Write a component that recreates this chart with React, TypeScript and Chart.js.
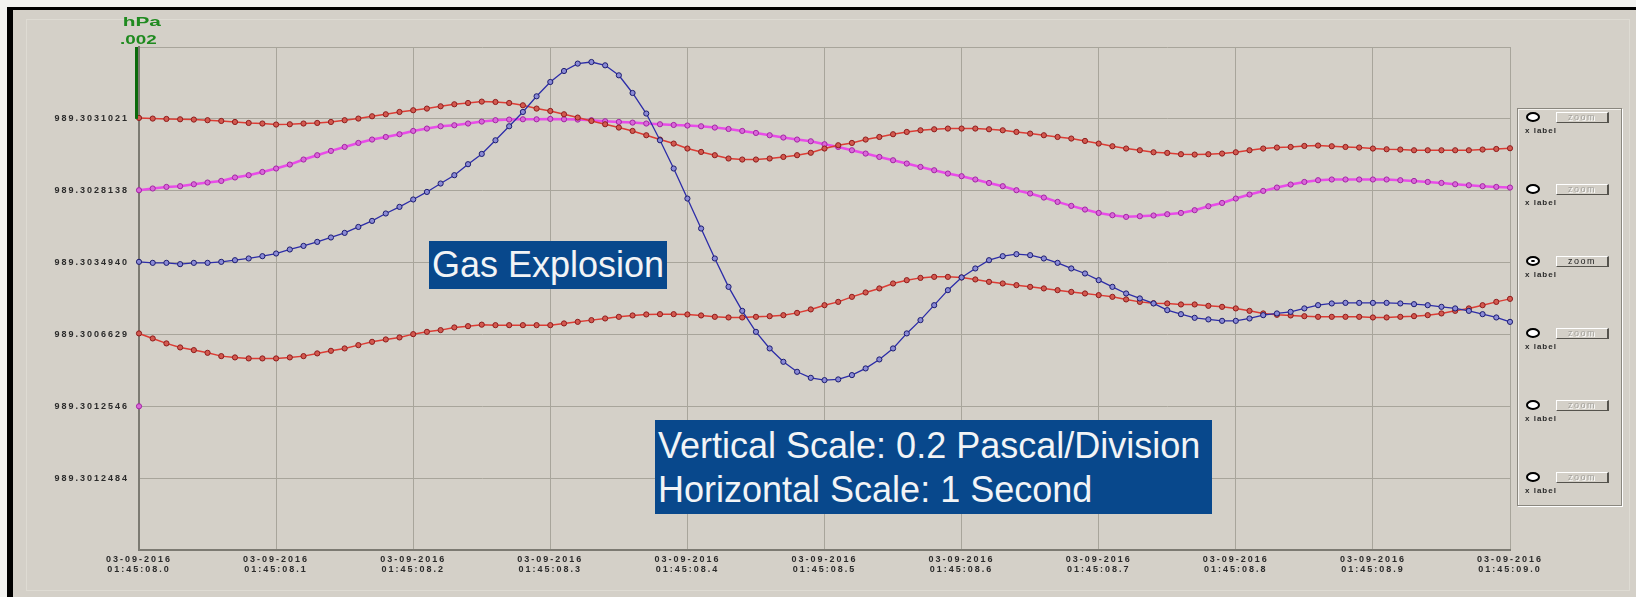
import React, { useEffect, useRef } from "react";
import { Chart, registerables } from "chart.js";

Chart.register(...registerables);

// ---- data (y in vertical divisions of the multi-trace display, 0.2 Pa / division) ----
const SAMPLE_STEP = 0.01; // seconds between samples
const X_DATE = "03-09-2016";
const X_TIMES = [
  "01:45:08.0", "01:45:08.1", "01:45:08.2", "01:45:08.3", "01:45:08.4", "01:45:08.5",
  "01:45:08.6", "01:45:08.7", "01:45:08.8", "01:45:08.9", "01:45:09.0",
];
const Y_TICK_LABELS = [
  "", "989.3012484", "989.3012546", "989.3006629", "989.3034940", "989.3028138", "989.3031021", "",
];

const RED_TOP = [
  6.013, 6.004, 5.999, 5.994, 5.990, 5.981, 5.971, 5.957, 5.943, 5.935,
  5.921, 5.925, 5.935, 5.943, 5.957, 5.981, 6.004, 6.036, 6.064, 6.096,
  6.120, 6.143, 6.175, 6.203, 6.221, 6.240, 6.235, 6.221, 6.189, 6.143,
  6.110, 6.064, 6.018, 5.971, 5.925, 5.879, 5.832, 5.772, 5.712, 5.656,
  5.587, 5.540, 5.494, 5.448, 5.434, 5.434, 5.448, 5.470, 5.494, 5.528,
  5.587, 5.633, 5.665, 5.712, 5.748, 5.786, 5.818, 5.841, 5.855, 5.865,
  5.865, 5.865, 5.855, 5.841, 5.818, 5.795, 5.772, 5.748, 5.726, 5.693,
  5.656, 5.619, 5.587, 5.563, 5.535, 5.526, 5.508, 5.503, 5.508, 5.517,
  5.535, 5.563, 5.587, 5.601, 5.609, 5.623, 5.629, 5.619, 5.609, 5.601,
  5.587, 5.577, 5.573, 5.563, 5.563, 5.563, 5.563, 5.563, 5.573, 5.581,
  5.591,
];

const MAGENTA = [
  5.007, 5.031, 5.053, 5.063, 5.090, 5.114, 5.136, 5.184, 5.216, 5.261,
  5.309, 5.364, 5.434, 5.494, 5.554, 5.609, 5.665, 5.712, 5.748, 5.786,
  5.832, 5.865, 5.897, 5.911, 5.935, 5.962, 5.981, 5.990, 5.994, 5.994,
  5.999, 5.994, 5.990, 5.981, 5.967, 5.957, 5.948, 5.935, 5.925, 5.915,
  5.907, 5.897, 5.879, 5.859, 5.832, 5.804, 5.772, 5.740, 5.712, 5.688,
  5.647, 5.609, 5.563, 5.517, 5.470, 5.424, 5.378, 5.331, 5.285, 5.239,
  5.202, 5.156, 5.108, 5.063, 5.007, 4.961, 4.905, 4.844, 4.789, 4.738,
  4.691, 4.659, 4.636, 4.645, 4.655, 4.673, 4.691, 4.729, 4.784, 4.830,
  4.891, 4.947, 4.997, 5.044, 5.086, 5.122, 5.146, 5.156, 5.156, 5.156,
  5.156, 5.156, 5.146, 5.136, 5.122, 5.108, 5.090, 5.076, 5.063, 5.053,
  5.044,
];

const BLUE = [
  4.010, 3.996, 3.996, 3.978, 3.996, 3.996, 4.010, 4.033, 4.057, 4.089,
  4.126, 4.182, 4.232, 4.288, 4.349, 4.413, 4.496, 4.580, 4.683, 4.775,
  4.878, 4.983, 5.100, 5.216, 5.369, 5.512, 5.702, 5.897, 6.096, 6.314,
  6.513, 6.666, 6.769, 6.791, 6.745, 6.606, 6.360, 6.074, 5.702, 5.309,
  4.891, 4.474, 4.057, 3.662, 3.328, 3.036, 2.805, 2.619, 2.480, 2.396,
  2.364, 2.374, 2.434, 2.527, 2.652, 2.805, 3.014, 3.199, 3.407, 3.616,
  3.793, 3.918, 4.033, 4.089, 4.117, 4.103, 4.057, 3.996, 3.918, 3.848,
  3.755, 3.662, 3.570, 3.501, 3.431, 3.338, 3.282, 3.231, 3.209, 3.189,
  3.189, 3.222, 3.268, 3.292, 3.314, 3.362, 3.407, 3.431, 3.439, 3.439,
  3.439, 3.439, 3.431, 3.421, 3.407, 3.384, 3.362, 3.328, 3.282, 3.236,
  3.175,
];

const RED_BOTTOM = [
  3.014, 2.944, 2.875, 2.819, 2.782, 2.744, 2.698, 2.680, 2.666, 2.666,
  2.666, 2.680, 2.698, 2.736, 2.772, 2.805, 2.851, 2.897, 2.930, 2.958,
  3.004, 3.036, 3.060, 3.097, 3.115, 3.136, 3.129, 3.129, 3.129, 3.129,
  3.129, 3.153, 3.175, 3.199, 3.222, 3.245, 3.264, 3.278, 3.282, 3.282,
  3.278, 3.264, 3.245, 3.236, 3.236, 3.245, 3.254, 3.268, 3.300, 3.348,
  3.407, 3.453, 3.523, 3.584, 3.640, 3.709, 3.755, 3.787, 3.801, 3.801,
  3.793, 3.765, 3.732, 3.709, 3.686, 3.662, 3.640, 3.616, 3.592, 3.570,
  3.547, 3.523, 3.487, 3.453, 3.435, 3.431, 3.417, 3.417, 3.398, 3.384,
  3.362, 3.328, 3.292, 3.273, 3.264, 3.254, 3.245, 3.245, 3.245, 3.245,
  3.236, 3.236, 3.245, 3.254, 3.268, 3.292, 3.328, 3.362, 3.407, 3.453,
  3.495,
];

const MAGENTA_2 = [2.0];

const LEGEND_ROWS = [0, 1, 2, 3, 4, 5];
const SELECTED_ROW = 2;

const BG = "#d4d0c8";
const toPoints = (arr: number[]) => arr.map((v, i) => ({ x: i * SAMPLE_STEP, y: v }));

const tickSpacingPlugin = {
  id: "tickSpacing",
  beforeDraw(chart: any) {
    chart.ctx.letterSpacing = "2px";
  },
  afterDraw(chart: any) {
    chart.ctx.letterSpacing = "0px";
    const { ctx, chartArea, scales } = chart;
    const y0 = scales.y.getPixelForValue(7);
    const y1 = scales.y.getPixelForValue(6);
    ctx.save();
    ctx.strokeStyle = "#0b6a0b";
    ctx.lineWidth = 3;
    ctx.beginPath();
    ctx.moveTo(chartArea.left - 2.5, y0);
    ctx.lineTo(chartArea.left - 2.5, y1);
    ctx.stroke();
    ctx.restore();
  },
};

function ds(label: string, data: number[], line: string, edge: string, fill: string, width: number) {
  return {
    label,
    data: toPoints(data),
    borderColor: line,
    borderWidth: width,
    pointRadius: 2.6,
    pointBorderWidth: 1,
    pointBorderColor: edge,
    pointBackgroundColor: fill,
    tension: 0,
    clip: false as any,
  };
}

export default function App() {
  const canvasRef = useRef<HTMLCanvasElement | null>(null);

  useEffect(() => {
    document.body.style.margin = "0";
    const canvas = canvasRef.current!;
    const chart = new Chart(canvas, {
      type: "line",
      data: {
        datasets: [
          ds("blue", BLUE, "#2c2ca8", "#1c1c6e", "#8a8ad6", 1.3),
          ds("red top", RED_TOP, "#dc3c34", "#8e1c1c", "#d25a50", 1.5),
          ds("red bottom", RED_BOTTOM, "#dc3c34", "#8e1c1c", "#d25a50", 1.5),
          ds("magenta", MAGENTA, "#e84ce8", "#a424a4", "#d868d8", 2.5),
          ds("magenta 2", MAGENTA_2, "#e84ce8", "#a424a4", "#d868d8", 2.5),
        ],
      },
      options: {
        responsive: false,
        animation: false,
        events: [],
        layout: { padding: { left: 0, top: 47, right: 126, bottom: 0 } },
        plugins: { legend: { display: false }, tooltip: { enabled: false }, title: { display: false } },
        scales: {
          x: {
            type: "linear",
            min: 0,
            max: 1,
            afterFit: (s: any) => {
              s.height = 47;
            },
            grid: { color: "#a8a59b", lineWidth: 1, drawTicks: false },
            border: { color: "#7c7a72", width: 2 },
            ticks: {
              stepSize: 0.1,
              autoSkip: false,
              maxRotation: 0,
              padding: 5,
              color: "#2a2a2a",
              font: { family: "Liberation Sans", size: 9, weight: "bold", lineHeight: 1.1 },
              callback: (v: any) => [X_DATE, X_TIMES[Math.round(Number(v) * 10)]],
            },
          },
          y: {
            type: "linear",
            min: 0,
            max: 7,
            afterFit: (s: any) => {
              s.width = 139;
            },
            grid: { color: "#a8a59b", lineWidth: 1, drawTicks: false },
            border: { color: "#7c7a72", width: 2 },
            ticks: {
              stepSize: 1,
              padding: 10,
              color: "#2a2a2a",
              font: { family: "Liberation Sans", size: 9, weight: "bold" },
              callback: (v: any) => Y_TICK_LABELS[Math.round(Number(v))] ?? "",
            },
          },
        },
      } as any,
      plugins: [tickSpacingPlugin],
    });
    return () => chart.destroy();
  }, []);

  const rowY = (k: number) => 117 + k * 72;

  return (
    <div style={{ position: "absolute", left: 0, top: 0, width: 1636, height: 597, background: "#f2f2f0", overflow: "hidden" }}>
      <div
        style={{
          position: "absolute",
          left: 7,
          top: 7,
          right: 0,
          bottom: 0,
          background: BG,
          borderLeft: "6px solid #000",
          borderTop: "3px solid #000",
        }}
      />
      <div style={{ position: "absolute", left: 26, top: 19, width: 1604, height: 572, border: "1px solid #dedbd3", boxSizing: "border-box" }} />
      <canvas ref={canvasRef} width={1636} height={597} style={{ position: "absolute", left: 0, top: 0 }} />

      {/* unit label */}
      <div style={{ position: "absolute", left: 121, top: 13, width: 40, textAlign: "center", font: "bold 13px 'Liberation Sans'", color: "#1f8a1f", transform: "scaleX(1.6)", transformOrigin: "left top", lineHeight: "17px", width: 26 } as any}>
        hPa
      </div>
      <div style={{ position: "absolute", left: 120, top: 31, font: "bold 13px 'Liberation Sans'", color: "#1f8a1f", transform: "scaleX(1.45)", transformOrigin: "left top", lineHeight: "17px" }}>
        .002
      </div>

      {/* annotations */}
      <div
        style={{
          position: "absolute",
          left: 429,
          top: 241,
          width: 238,
          height: 48,
          background: "#08488c",
          color: "#f2f4f6",
          font: "36px 'Liberation Sans'",
          lineHeight: "48px",
          paddingLeft: 3,
          boxSizing: "border-box",
          whiteSpace: "nowrap",
        }}
      >
        Gas Explosion
      </div>
      <div
        style={{
          position: "absolute",
          left: 655,
          top: 420,
          width: 557,
          height: 94,
          background: "#08488c",
          color: "#f2f4f6",
          font: "36px 'Liberation Sans'",
          lineHeight: "44px",
          paddingLeft: 3,
          paddingTop: 4,
          boxSizing: "border-box",
          whiteSpace: "nowrap",
        }}
      >
        <div>Vertical Scale: 0.2 Pascal/Division</div>
        <div>Horizontal Scale: 1 Second</div>
      </div>

      {/* trace selector panel */}
      <div
        style={{
          position: "absolute",
          left: 1517,
          top: 108,
          width: 105,
          height: 398,
          border: "1px solid #8a877f",
          boxShadow: "1px 1px 0 #ffffff, inset 1px 1px 0 #f4f2ee",
          boxSizing: "border-box",
        }}
      />
      {LEGEND_ROWS.map((k) => (
        <React.Fragment key={k}>
          <div
            style={{
              position: "absolute",
              left: 1526,
              top: rowY(k) - 5,
              width: 14,
              height: 10,
              borderRadius: "50%",
              border: "2.5px solid #000",
              background: "#fff",
              boxSizing: "border-box",
            }}
          >
            {k === SELECTED_ROW && (
              <div style={{ position: "absolute", left: 3, top: 1.5, width: 3.5, height: 2.5, borderRadius: "50%", background: "#000" }} />
            )}
          </div>
          <div
            style={{
              position: "absolute",
              left: 1556,
              top: rowY(k) - 5,
              width: 53,
              height: 11,
              background: BG,
              borderTop: "1px solid #ffffff",
              borderLeft: "1px solid #ffffff",
              borderRight: "2px solid #55534d",
              borderBottom: "1px solid #55534d",
              boxSizing: "border-box",
              font: "9px 'Liberation Sans'",
              lineHeight: "9px",
              textAlign: "center",
              letterSpacing: "1.5px",
              color: k === SELECTED_ROW ? "#222" : "#a4a29c",
              textShadow: k === SELECTED_ROW ? "none" : "1px 1px 0 #fff",
            }}
          >
            zoom
          </div>
          <div
            style={{
              position: "absolute",
              left: 1525,
              top: rowY(k) + 9,
              font: "bold 8px 'Liberation Sans'",
              letterSpacing: "1px",
              color: "#2a2a2a",
              lineHeight: "9px",
              whiteSpace: "nowrap",
            }}
          >
            x label
          </div>
        </React.Fragment>
      ))}
    </div>
  );
}
